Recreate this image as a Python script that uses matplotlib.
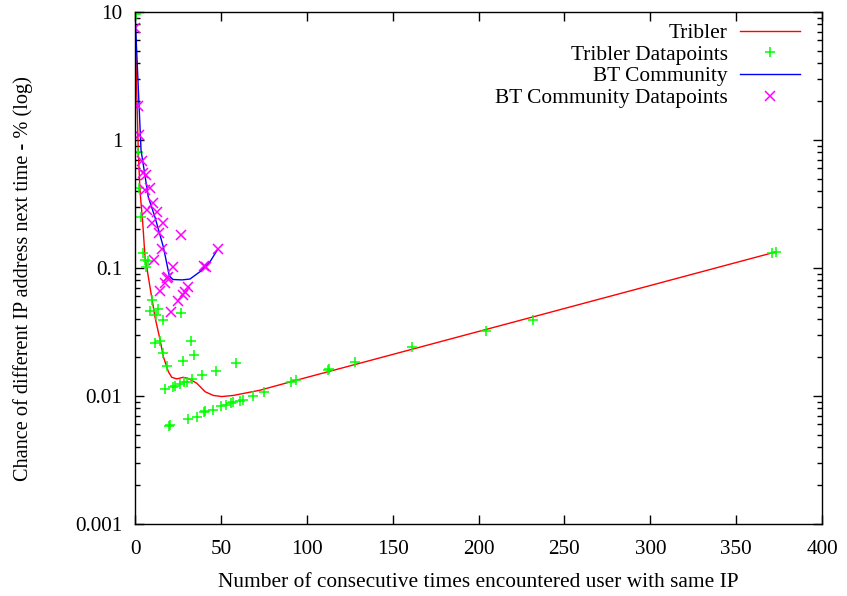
import numpy as np
import matplotlib.pyplot as plt
from matplotlib.ticker import LogLocator, FixedLocator, FuncFormatter

plt.rcParams['font.family'] = ['Liberation Serif', 'DejaVu Serif']

# fitted curves
tribler_fit_x = [0, 0.8, 1.9, 2.9, 4.5, 5.8, 8.7, 11.6, 14.6, 16.5, 19.4, 21.4,
                 24.3, 28.1, 31, 35.9, 40.8, 45.6, 50.5, 57.2, 72.8, 94.1, 372.6]
tribler_fit_y = [10, 3.0, 0.835, 0.40, 0.225, 0.123, 0.0714, 0.0416, 0.0274, 0.0203,
                 0.0155, 0.0140, 0.0136, 0.0140, 0.0137, 0.0126, 0.0108, 0.0101,
                 0.0099, 0.0101, 0.0111, 0.0133, 0.133]

bt_fit_x = [0, 3.5, 7.7, 11.6, 16.5, 20, 22.1, 27.4, 32, 37.8, 43.7, 48.3]
bt_fit_y = [9.8, 0.835, 0.36, 0.25, 0.146, 0.0866, 0.0813, 0.0807, 0.082, 0.0935,
            0.112, 0.141]

# measured datapoints
tribler_x = [0.6, 1.6, 2.3, 3.5, 4.8, 5.8, 7.4, 6.6, 9.7, 13.6, 9.0, 12.2, 16.5,
             26.8, 11.6, 14.6, 32.6, 16.1, 34.5, 27.8, 58.8, 18.4, 38.8, 47, 33,
             30.1, 28.7, 26.2, 23.3, 21.9, 17.5, 68.5, 75, 62.7, 61, 57.2, 55.9,
             53, 50, 45.6, 41, 40.4, 36, 30.7, 20.4, 20, 90.8, 93.7, 112.5, 113,
             128, 161, 204.4, 231.7, 371, 373]
tribler_y = [9.6, 0.805, 0.42, 0.25, 0.131, 0.115, 0.114, 0.102, 0.056, 0.048,
             0.046, 0.043, 0.039, 0.0446, 0.026, 0.027, 0.027, 0.0215, 0.021,
             0.0189, 0.018, 0.0172, 0.0146, 0.0158, 0.0136, 0.0129, 0.0128,
             0.0124, 0.012, 0.0118, 0.0114, 0.0100, 0.0108, 0.0093, 0.0092,
             0.0089, 0.0088, 0.0085, 0.0083, 0.0078, 0.0076, 0.0075, 0.0069,
             0.0066, 0.0059, 0.0058, 0.0128, 0.0134, 0.016, 0.0163, 0.0183,
             0.024, 0.0323, 0.039, 0.132, 0.134]

bt_x = [0, 1.9, 2.5, 3.9, 4.5, 6.4, 5.8, 8.7, 10.7, 7.2, 12.6, 10.1, 16.5, 14,
        26.6, 15.9, 48.5, 11.2, 22.3, 40.2, 41.3, 19.4, 18.4, 17.5, 14.6, 30.7,
        29.1, 27.8, 24.8, 20.8]
bt_y = [7.45, 1.85, 1.09, 0.685, 0.556, 0.533, 0.407, 0.42, 0.323, 0.284, 0.275,
        0.226, 0.223, 0.189, 0.181, 0.141, 0.140, 0.1155, 0.102, 0.104, 0.101,
        0.0855, 0.0836, 0.077, 0.066, 0.0706, 0.0653, 0.062, 0.0552, 0.0456]

fig = plt.figure(figsize=(8.47, 5.96), dpi=100)
ax = fig.add_axes([0.1594, 0.1208, 0.8111, 0.8591])

ax.plot(tribler_fit_x, tribler_fit_y, color='#ff0000', lw=1.0, label='Tribler')
ax.plot(tribler_x, tribler_y, ls='none', marker='+', color='#00ff00', ms=7.5,
        mew=1.1, label='Tribler Datapoints')
ax.plot(bt_fit_x, bt_fit_y, color='#0000ff', lw=1.0, label='BT Community')
ax.plot(bt_x, bt_y, ls='none', marker='x', color='#ff00ff', ms=6.5,
        mew=1.1, label='BT Community Datapoints')

ax.set_yscale('log')
ax.set_xlim(0, 400)
ax.set_ylim(0.001, 10)
ax.xaxis.set_major_locator(FixedLocator(np.arange(0, 401, 50)))
ax.yaxis.set_major_locator(LogLocator(base=10))
ax.yaxis.set_minor_locator(LogLocator(base=10, subs=np.arange(2, 10)))
ax.yaxis.set_major_formatter(FuncFormatter(lambda v, p: '%g' % v))
ax.yaxis.set_minor_formatter(FuncFormatter(lambda v, p: ''))

ax.tick_params(which='both', direction='in', top=True, right=True,
               labelsize=15.2, width=1.0)
ax.tick_params(which='major', length=6.5)
ax.tick_params(which='minor', length=3.5)
ax.tick_params(axis='x', pad=11.5)
ax.tick_params(axis='y', pad=9)
for s in ax.spines.values():
    s.set_linewidth(1.0)

ax.set_xlabel('Number of consecutive times encountered user with same IP',
              fontsize=15.4, labelpad=10)
ax.set_ylabel('Chance of different IP address next time - % (log)',
              fontsize=14.6, labelpad=30)
ax.yaxis.label.set_y(0.48)

ax.legend(loc='upper right', bbox_to_anchor=(0.9805, 0.995), borderaxespad=0,
          borderpad=0.4, markerfirst=False, frameon=False, fontsize=15.4,
          handlelength=2.79, handletextpad=0.6, labelspacing=0.08,
          numpoints=1)

fig.savefig('out.png', dpi=100)
